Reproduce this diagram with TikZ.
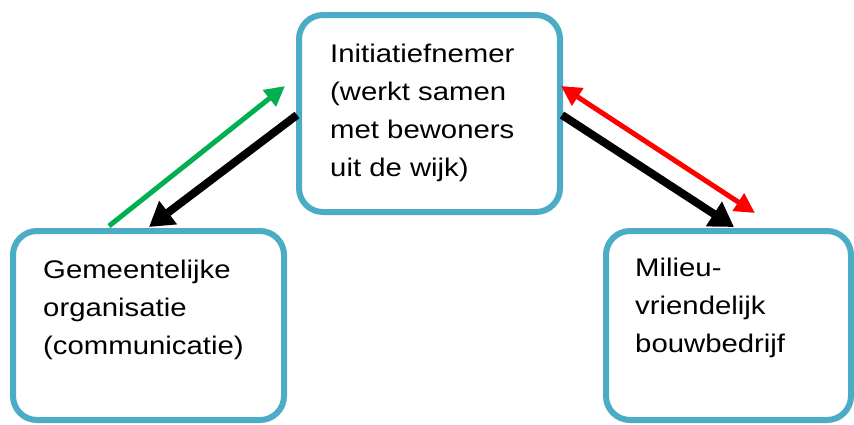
\documentclass[tikz,border=0pt]{standalone}
\usepackage{fontspec}
\setmainfont{Liberation Sans}[FakeStretch=1.15]
\usetikzlibrary{arrows.meta}
\definecolor{boxline}{HTML}{4BACC6}
\definecolor{flowgreen}{HTML}{00B050}
\definecolor{flowred}{HTML}{FF0000}
\tikzset{
  party/.style={draw=boxline, line width=6pt, rounded corners=24pt, fill=white,
    rectangle, inner sep=0pt},
  % multi-line labels are placed by the baseline of their last line
  label/.style={anchor=base west, align=left, inner sep=0pt,
    font=\fontsize{25.5pt}{38.2pt}\selectfont},
  thickflow/.style={line width=8pt, -{Triangle[length=24pt,width=28pt]}},
  thinflow/.style={line width=5pt, -{Triangle[length=20pt,width=20pt]}},
}
\begin{document}
\begin{tikzpicture}[x=1pt, y=-1pt]
  \useasboundingbox[fill=white] (0,0) rectangle (854,424);

  % the three parties
  \node[party, minimum width=261pt, minimum height=197pt] (init) at (429.5,113.5) {};
  \node[party, minimum width=271pt, minimum height=189pt] (gem) at (148.5,325.5) {};
  \node[party, minimum width=245pt, minimum height=189pt] (bouw) at (728.5,325.5) {};

  \node[label] (initText) at (330,176.9) {Initiatiefnemer\\(werkt samen\\met bewoners\\uit de wijk)};
  \node[label] (gemText) at (43,354.4) {Gemeentelijke\\organisatie\\(communicatie)};
  \node[label] (bouwText) at (635,352.4) {Milieu-\\vriendelijk\\bouwbedrijf};

  % arrow end points on the box borders
  \coordinate (gemOut) at (109,226);
  \coordinate (initIn) at (285,86);
  \coordinate (initOutL) at (297,115);
  \coordinate (gemIn) at (149,227);
  \coordinate (initOutR) at (562,115);
  \coordinate (bouwIn) at (734,227);
  \coordinate (initRed) at (561,86);
  \coordinate (bouwRed) at (755,213);

  % flows between the parties
  \draw[thinflow, draw=flowgreen, fill=flowgreen] (gemOut) -- (initIn);
  \draw[thickflow, draw=black] (initOutL) -- (gemIn);
  \draw[thickflow, draw=black] (initOutR) -- (bouwIn);
  \draw[line width=5pt, draw=flowred,
    {Triangle[length=20pt,width=20pt]}-{Triangle[length=20pt,width=20pt]}]
    (initRed) -- (bouwRed);
\end{tikzpicture}
\end{document}
